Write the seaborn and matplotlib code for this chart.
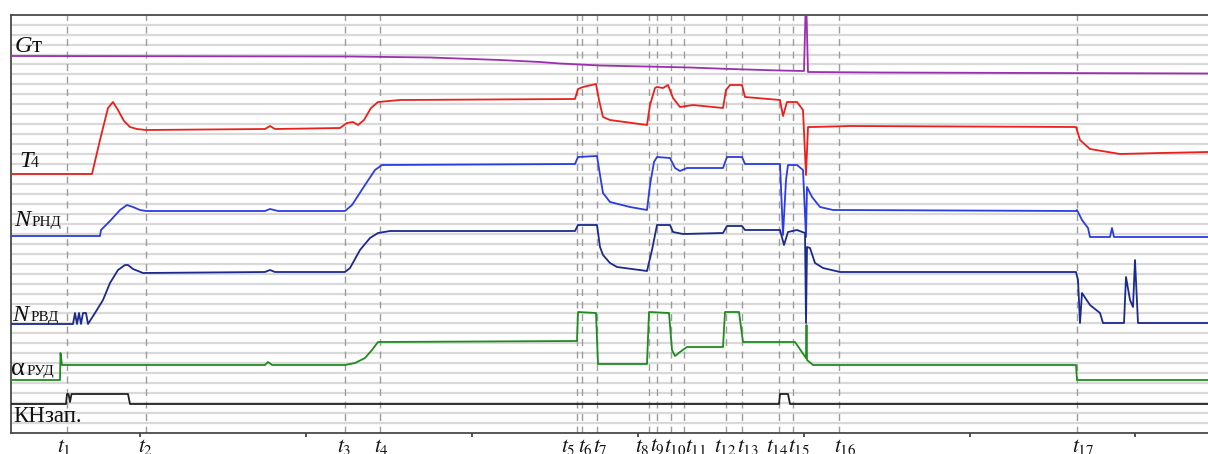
import matplotlib
matplotlib.use("Agg")
import matplotlib.pyplot as plt
import matplotlib.transforms as mtransforms
import seaborn as sns
import pandas as pd

# ---------------- data (time in chart units, signal levels in arbitrary units) -------------
gt_x = [11, 350, 430, 500, 540, 560, 600, 690, 730, 780, 804, 805.5, 806.5, 808, 880, 1040, 1208]
gt_y = [377, 376.5, 375.5, 373, 371, 369.5, 367.5, 365.5, 364, 362.5, 362, 420, 420, 361, 360.5, 360, 359.5]

t4_x = [11, 92, 100, 108, 113, 118, 124, 130, 137, 146, 265, 270, 275, 340, 347, 353, 358, 364, 371, 378,
        400, 575, 578, 583, 596, 599, 603, 610, 647, 650, 655, 657, 663, 668, 673, 680, 693, 723, 726, 730,
        742, 745, 780, 783, 787, 797, 803, 806, 808, 813, 850, 1076, 1080, 1090, 1120, 1160, 1208]
t4_y = [259, 259, 293, 325, 331, 323, 312, 306, 304, 303, 304, 307, 304, 305, 310, 311, 308, 313, 325, 331,
        333, 334, 344, 346, 349, 333, 316, 313, 308, 328, 345, 346, 345, 348, 335, 326, 328, 325, 343, 348,
        348, 336, 333, 317, 331, 331, 323, 258, 306, 306, 307, 306, 293, 284, 279, 280, 281]

nlp_x = [11, 100, 101, 110, 120, 127, 133, 140, 146, 265, 270, 278, 345, 352, 365, 375, 382, 575, 578, 597,
         600, 603, 610, 630, 647, 650, 654, 657, 670, 675, 680, 687, 723, 727, 742, 745, 780, 783, 786, 788,
         797, 803, 806, 807, 812, 820, 833, 1076, 1077, 1082, 1088, 1090, 1110, 1112, 1114, 1208]
nlp_y = [197, 197, 203, 212, 223, 228, 226, 223, 222, 222, 224, 222, 222, 228, 248, 263, 268, 269, 276, 277,
         258, 240, 231, 226, 223, 248, 271, 276, 275, 265, 262, 265, 265, 276, 276, 269, 269, 198, 253, 268,
         268, 263, 196, 246, 236, 226, 223, 222, 223, 213, 205, 196, 196, 205, 196, 196]

nhp_x = [11, 73, 75, 77, 79, 81, 83, 86, 88, 95, 103, 110, 118, 125, 128, 133, 143, 265, 270, 275, 345, 350,
         360, 370, 378, 390, 575, 578, 597, 600, 603, 610, 617, 647, 652, 657, 670, 673, 683, 723, 727, 742,
         745, 780, 784, 788, 797, 805, 806, 807, 810, 815, 823, 840, 1076, 1078, 1080, 1082, 1090, 1100, 1103,
         1124, 1126, 1130, 1133, 1135, 1138, 1208]
nhp_y = [109, 109, 120, 109, 120, 109, 120, 120, 109, 120, 133, 150, 163, 168, 168, 164, 160, 161, 163, 161,
         161, 165, 183, 195, 200, 202, 202, 208, 208, 186, 178, 170, 166, 162, 183, 208, 208, 201, 199, 200,
         207, 207, 203, 203, 188, 201, 203, 200, 110, 186, 185, 170, 165, 161, 161, 153, 110, 140, 128, 120,
         110, 110, 156, 133, 126, 173, 110, 110]

rud_x = [11, 60, 60.5, 62, 265, 268, 272, 345, 355, 365, 372, 378, 577, 578, 596, 598, 647, 649, 669, 672,
         675, 680, 687, 723, 725, 739, 743, 795, 806, 806.5, 807, 813, 1076, 1077, 1208]
rud_y = [53, 53, 80, 68, 68, 71, 68, 68, 70, 75, 83, 91, 92, 121, 120, 69, 69, 121, 120, 83,
         77, 81, 86, 86, 121, 121, 91, 91, 75, 108, 73, 68, 68, 53, 53]

kn_x = [11, 66, 67, 68.5, 70, 71.5, 128, 130, 779, 780, 788, 790, 1208]
kn_y = [29, 29, 39, 39, 31, 39, 39, 29, 29, 39, 39, 29, 29]

event_x = [67, 146, 345, 380, 577, 582, 597, 649, 657, 671, 684, 726, 742, 779, 793, 839, 1077]
event_label_x = [64, 146, 344, 382, 568, 585, 600, 642, 657, 675, 696, 725, 748, 777, 799, 845, 1083]
event_names = [str(i) for i in range(1, 18)]

tick_x = [140, 306, 472, 638, 804, 970, 1135]

series = [
    ("Gт", gt_x, gt_y, "#9b2fae"),
    ("T4", t4_x, t4_y, "#e8211c"),
    ("Nрнд", nlp_x, nlp_y, "#2b3de0"),
    ("Nрвд", nhp_x, nhp_y, "#1b2a8c"),
    ("αруд", rud_x, rud_y, "#1f8c1f"),
    ("КНзап.", kn_x, kn_y, "#222222"),
]

# ---------------- figure -------------
sns.set_theme(style="white")
plt.rcParams["font.family"] = ["Liberation Serif", "DejaVu Serif"]
plt.rcParams["mathtext.fontset"] = "stix"

W, H = 1208, 454
fig = plt.figure(figsize=(W / 100, H / 100), dpi=100)
ax = fig.add_axes([11 / W, 21 / H, 1 - 11 / W, (433 - 14.7) / H])

for name, xs, ys, col in series:
    df = pd.DataFrame({"t": xs, "v": ys})
    sns.lineplot(data=df, x="t", y="v", ax=ax, color=col, lw=1.3,
                 estimator=None, sort=False, zorder=3)

ax.set_xlim(11, 1208)
ax.set_ylim(0, 418.3)

# horizontal grid
ax.set_yticks([9.96 * k for k in range(1, 42)])
ax.yaxis.grid(True, color="#d9d9d9", lw=1.6)
ax.tick_params(axis="y", left=False, labelleft=False)
ax.set_axisbelow(True)

# bottom ticks
ax.set_xticks(tick_x)
ax.tick_params(axis="x", bottom=True, direction="out", length=3, width=1.2,
               color="#333333", labelbottom=False)
ax.set_xlabel("")
ax.set_ylabel("")

for s in ["top", "left", "bottom"]:
    ax.spines[s].set_color("#4a4a4a")
    ax.spines[s].set_linewidth(1.3)
ax.spines["right"].set_visible(False)

for ex in event_x:
    ax.axvline(ex, color="#9c9c9c", lw=1.0, ls=(0, (5, 4)), zorder=2)

trans = mtransforms.blended_transform_factory(ax.transData, fig.transFigure)
for lx, nm in zip(event_label_x, event_names):
    ax.text(lx, 1 - 437 / H, r"$t_{%s}$" % nm, transform=trans, ha="center", va="top",
            fontsize=15.5, color="#111111", clip_on=False)

# left labels
def ftxt(x, y, s, size, style="normal"):
    fig.text(x / W, 1 - y / H, s, fontsize=size, style=style, va="baseline", ha="left",
             color="#111111", family=["Liberation Serif", "DejaVu Serif"])

ftxt(15, 52, "G", 17.5, "italic")
ftxt(32, 52, "т", 16.5)
ftxt(19, 167, "T", 17.5, "italic")
ftxt(31, 167, "4", 11.5)
ftxt(14, 226, "N", 17.5, "italic")
ftxt(32, 226, "РНД", 11)
ftxt(12, 321, "N", 17.5, "italic")
ftxt(31, 321, "РВД", 11)
ftxt(11, 375, "α", 19)
ftxt(27, 375, "РУД", 11)
ftxt(13, 422, "КНзап.", 16.5)

fig.savefig("out.png", dpi=100)
